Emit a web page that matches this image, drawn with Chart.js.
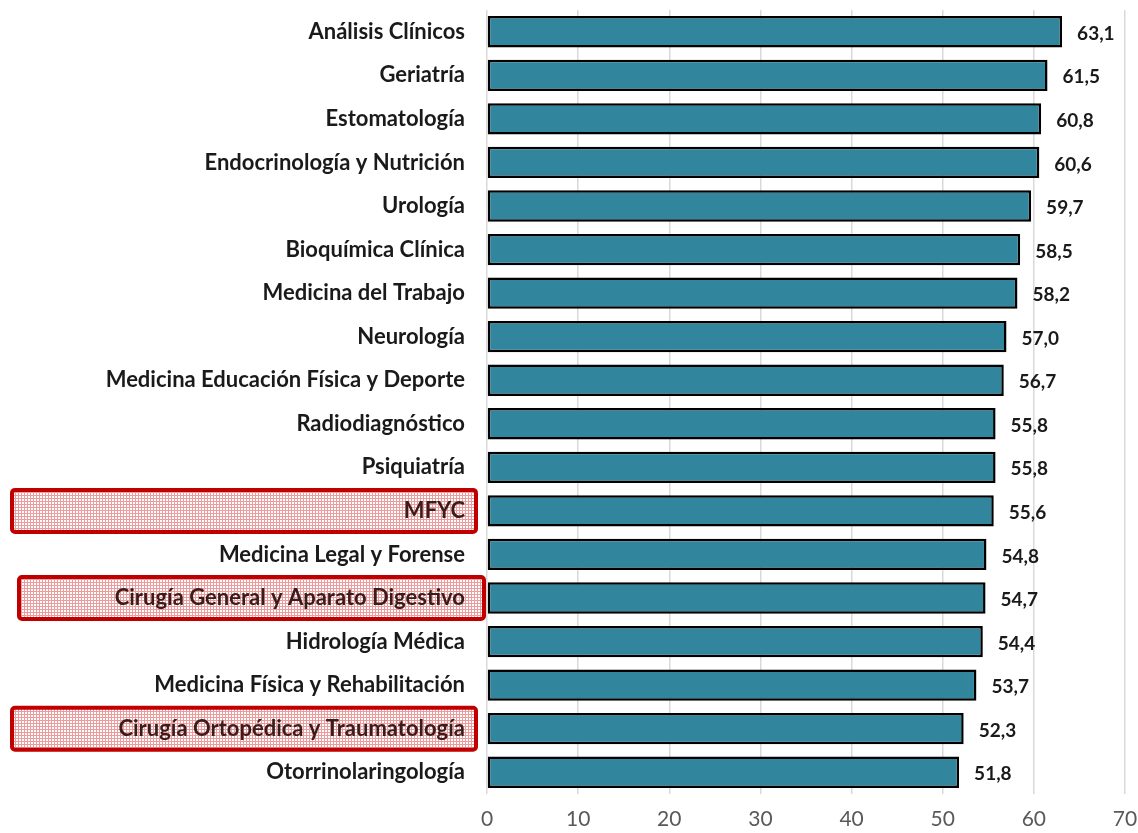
<!DOCTYPE html>
<html>
<head>
<meta charset="utf-8">
<script src="https://cdn.jsdelivr.net/npm/chart.js@4"></script>
<style>
  html, body { margin: 0; padding: 0; background: #fff; }
  #wrap { width: 1138px; height: 833px; }
</style>
</head>
<body>
<div id="wrap"><canvas id="grafico"></canvas></div>
<script>
const especialidades = [
  "Análisis Clínicos", "Geriatría", "Estomatología", "Endocrinología y Nutrición",
  "Urología", "Bioquímica Clínica", "Medicina del Trabajo", "Neurología",
  "Medicina Educación Física y Deporte", "Radiodiagnóstico", "Psiquiatría", "MFYC",
  "Medicina Legal y Forense", "Cirugía General y Aparato Digestivo", "Hidrología Médica",
  "Medicina Física y Rehabilitación", "Cirugía Ortopédica y Traumatología", "Otorrinolaringología"
];
const valores = [63.1, 61.5, 60.8, 60.6, 59.7, 58.5, 58.2, 57.0, 56.7, 55.8, 55.8, 55.6, 54.8, 54.7, 54.4, 53.7, 52.3, 51.8];
const destacadas = ["MFYC", "Cirugía General y Aparato Digestivo", "Cirugía Ortopédica y Traumatología"];
const ticksX = [0, 10, 20, 30, 40, 50, 60, 70];

// patron rosa cuadriculado para las etiquetas destacadas
function crearPatron(ctx) {
  const c = document.createElement("canvas");
  c.width = 3; c.height = 3;
  const p = c.getContext("2d");
  p.fillStyle = "#ffffff";
  p.fillRect(0, 0, 3, 3);
  p.fillStyle = "#ec9c9c";
  p.fillRect(0, 0, 3, 1);
  p.fillRect(0, 0, 1, 3);
  return ctx.createPattern(c, "repeat");
}

const cajasDestacadas = {
  id: "cajasDestacadas",
  beforeDraw(chart) {
    const ctx = chart.ctx;
    const y = chart.scales.y;
    const patron = crearPatron(ctx);
    ctx.save();
    especialidades.forEach((nombre, i) => {
      if (!destacadas.includes(nombre)) return;
      const cy = y.getPixelForValue(i);
      let x0 = 12, x1 = 476;
      if (nombre.startsWith("Cirugía General")) { x0 = 19; x1 = 484; }
      ctx.beginPath();
      ctx.roundRect(x0, cy - 21, x1 - x0, 42, 3);
      ctx.fillStyle = patron;
      ctx.fill();
      ctx.lineWidth = 4;
      ctx.strokeStyle = "#c00000";
      ctx.stroke();
    });
    ctx.restore();
  }
};

const etiquetasValor = {
  id: "etiquetasValor",
  afterDatasetsDraw(chart) {
    const ctx = chart.ctx;
    const meta = chart.getDatasetMeta(0);
    ctx.save();
    ctx.font = "bold 19px Lato";
    ctx.fillStyle = "#1a1a1a";
    ctx.textBaseline = "middle";
    ctx.textAlign = "left";
    meta.data.forEach((bar, i) => {
      ctx.fillText(valores[i].toFixed(1).replace(".", ","), bar.x + 15, bar.y + 2);
    });
    ctx.restore();
  }
};

new Chart(document.getElementById("grafico"), {
  type: "bar",
  data: {
    labels: especialidades,
    datasets: [{
      data: valores,
      backgroundColor: "#31859c",
      borderColor: "#000000",
      borderWidth: 2.5,
      borderSkipped: false,
      barPercentage: 0.72,
      categoryPercentage: 1
    }]
  },
  options: {
    indexAxis: "y",
    responsive: true,
    maintainAspectRatio: false,
    animation: false,
    layout: { padding: { top: 10, right: 13, bottom: 0, left: 0 } },
    plugins: {
      legend: { display: false },
      tooltip: { enabled: false }
    },
    scales: {
      x: {
        min: 0,
        max: 70,
        afterBuildTicks: (s) => { s.ticks = ticksX.map(v => ({ value: v })); },
        afterFit: (s) => { s.height = 39; s.paddingLeft = 0; s.paddingRight = 0; },
        grid: { color: "#d9d9d9", lineWidth: 1.5, drawTicks: false },
        border: { display: false },
        ticks: { color: "#595959", font: { family: "Lato", size: 21 }, padding: 13 }
      },
      y: {
        afterFit: (s) => { s.width = 487; s.paddingTop = 0; s.paddingBottom = 0; },
        grid: { display: false, drawTicks: false },
        border: { display: false },
        ticks: {
          color: (c) => destacadas.includes(especialidades[c.index]) ? "#3a1c1c" : "#1a1a1a",
          font: { family: "Lato", size: 22, weight: "bold" },
          padding: 22,
          autoSkip: false
        }
      }
    }
  },
  plugins: [cajasDestacadas, etiquetasValor]
});
</script>
</body>
</html>
